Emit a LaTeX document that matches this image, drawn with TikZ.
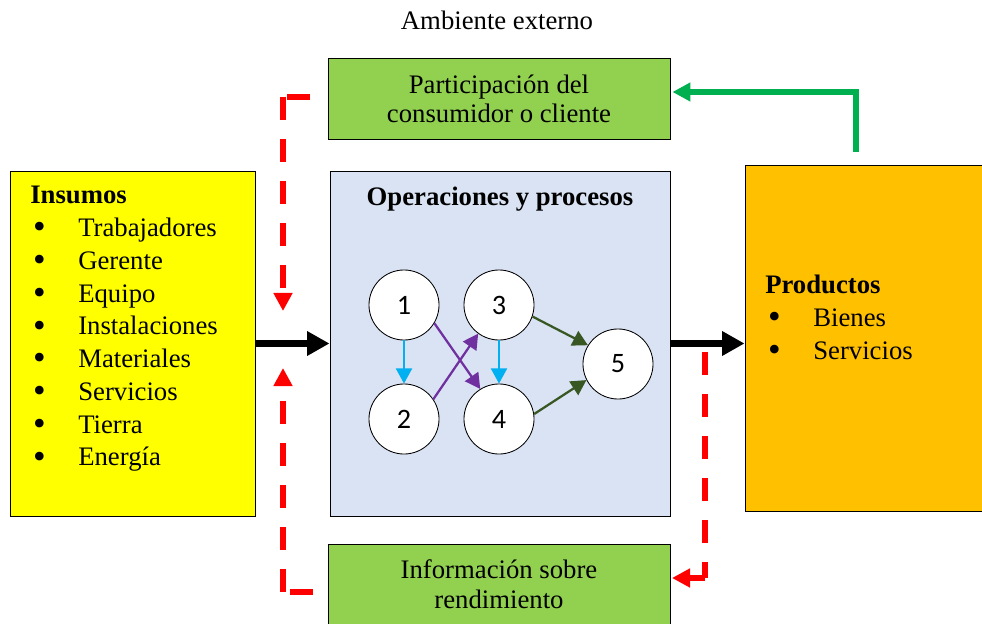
\documentclass[tikz,border=0pt]{standalone}
\usepackage{fontspec}
\setmainfont{Liberation Serif}
\newfontfamily\numfont{Carlito}
\usetikzlibrary{arrows.meta}

\definecolor{verdecaja}{HTML}{92D050}
\definecolor{amarillo}{HTML}{FFFF00}
\definecolor{azulcaja}{HTML}{DAE3F3}
\definecolor{naranja}{HTML}{FFC000}
\definecolor{verdeflecha}{HTML}{00B050}
\definecolor{celeste}{HTML}{00B0F0}
\definecolor{morado}{HTML}{7030A0}
\definecolor{oliva}{HTML}{385723}

% punto de lista
\newcommand{\punto}[1]{\hspace*{2pt}\makebox[1.13cm][l]{\raisebox{-0.18ex}{\scalebox{1.35}{\textbullet}}}#1}

\begin{document}
\begin{tikzpicture}
		[
		x=0.025cm, y=-0.025cm, font=\fontsize{19}{20.5}\selectfont,
		%Voreinstellung der Kaesten
		caja/.style={draw=black, line width=0.6pt, inner sep=0pt, align=center},
		circulo/.style={circle, draw=black, line width=0.6pt, fill=white, minimum size=1.75cm, inner sep=0pt, font=\numfont\fontsize{20}{20}\selectfont},
		flujo/.style={line width=5.6pt, -{Triangle[length=0.56cm, width=0.58cm]}},
		rojo/.style={red, line width=4pt, dash pattern=on 0.575cm off 0.475cm},
		retro/.style={rojo, -{Triangle[length=0.45cm, width=0.45cm]}},
		paso/.style={line width=1.6pt, -{Triangle[length=0.38cm, width=0.4cm]}}
		]
		
		%Rahmen
		\useasboundingbox (0,0) rectangle (982,624);
		
		%Ambiente externo
		\node (amb) at (497,20) {Ambiente externo};
		
		%Kaesten
		\node[caja, fill=verdecaja, minimum width=8.55cm, minimum height=2.025cm] (part) at (499,98.5) {Participación del\\consumidor o cliente};
		\node[caja, fill=amarillo, minimum width=6.125cm, minimum height=8.625cm] (ins) at (132.5,343.5) {};
		\node[caja, fill=azulcaja, minimum width=8.5cm, minimum height=8.625cm] (ops) at (500,343.5) {};
		\node[caja, fill=naranja, minimum width=6.25cm, minimum height=8.65cm] (prod) at (870,338) {};
		\node[caja, fill=verdecaja, minimum width=8.55cm, minimum height=2.025cm, font=\fontsize{19}{21.5}\selectfont] (info) at (499,584.5) {Información sobre\\rendimiento};
		
		%Texte
		\node[anchor=north west, align=left, inner sep=0pt, font=\fontsize{19}{23.3}\selectfont] (listains) at (30,186)
		{\textbf{Insumos}\\ \punto{Trabajadores}\\ \punto{Gerente}\\ \punto{Equipo}\\ \punto{Instalaciones}\\
			\punto{Materiales}\\ \punto{Servicios}\\ \punto{Tierra}\\ \punto{Energía}};
		\node[anchor=north west, align=left, inner sep=0pt, font=\fontsize{19}{23.3}\selectfont] (listaprod) at (765,275)
		{\textbf{Productos}\\ \punto{Bienes}\\ \punto{Servicios}};
		\node[font=\bfseries\fontsize{19}{20}\selectfont] (titops) at (500,199) {Operaciones y procesos};
		
		%Kreise
		\node[circulo] (n1) at (404,305) {1};
		\node[circulo] (n2) at (404,419) {2};
		\node[circulo] (n3) at (499,305) {3};
		\node[circulo] (n4) at (499,419) {4};
		\node[circulo] (n5) at (618,364) {5};
		
		%Pfeile zwischen Kreisen
		\draw[paso, celeste] (n1) -- (n2);
		\draw[paso, celeste] (n3) -- (n4);
		\draw[paso, morado] (n1.-31) -- (n4.122);
		\draw[paso, morado] (n2.34) -- (n3.234);
		\draw[paso, oliva] (n3.-19) -- (n5.148);
		\draw[paso, oliva] (n4.8) -- (n5.207);
		
		%Hauptfluss
		\draw[flujo] (ins) -- (ops);
		\draw[flujo] (ops.east) -- (ops.east -| prod.west);
		
		%Rueckkopplung
		\coordinate (rini) at (310,97);
		\coordinate (resq) at (283,97);
		\coordinate (rtop) at (283,311);
		\coordinate (rbaja) at (313,592);
		\coordinate (resq2) at (283,592);
		\coordinate (rsube) at (283,368);
		\coordinate (rder) at (705,352);
		\coordinate (resq3) at (705,578);
		\coordinate (rfin) at (672,578);
		\coordinate (vini) at (856,152);
		\draw[rojo] (rini) -- (resq);
		\draw[retro] (resq) -- (rtop);
		\draw[rojo] (rbaja) -- (resq2);
		\draw[retro] (resq2) -- (rsube);
		\draw[rojo] (rder) -- (resq3);
		\draw[retro] (resq3) -- (rfin);
		\draw[verdeflecha, line width=4pt, -{Triangle[length=0.45cm, width=0.45cm]}] (vini) |- ([shift={(2,-6.5)}]part.east);
	\end{tikzpicture}
\end{document}
